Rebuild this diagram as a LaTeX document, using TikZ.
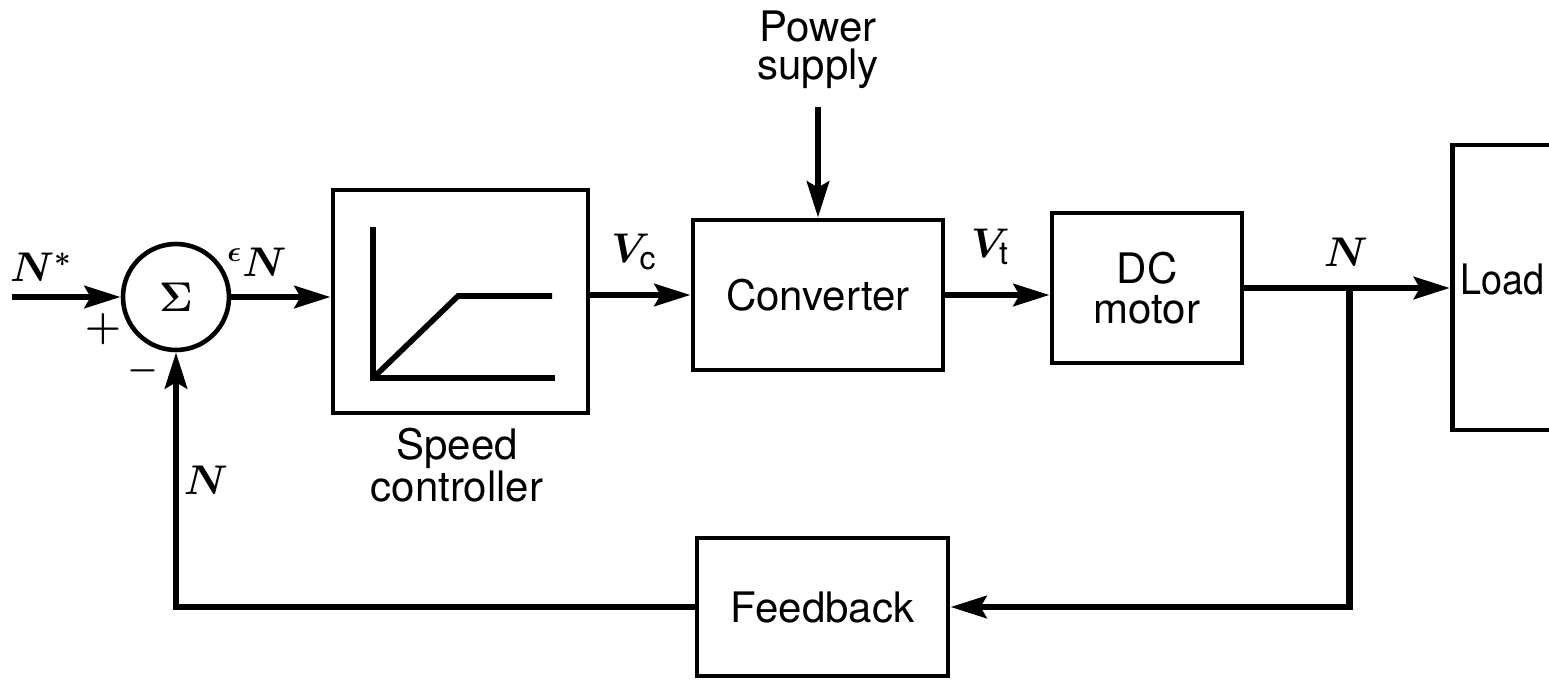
\documentclass[tikz,border=0pt]{standalone}
\usepackage{fontspec}
\setmainfont{TeX Gyre Heros}
\usetikzlibrary{arrows.meta}
\begin{document}
\begin{tikzpicture}[x=0.5pt,y=-0.5pt,
  blk/.style={draw, line width=2.4pt, inner sep=0pt, font=\fontsize{21}{20}\selectfont, align=center},
  sig/.style={line width=3.4pt, -{Stealth[length=18pt,width=11pt,inset=3pt]}},
  lbl/.style={inner sep=0pt, font=\fontsize{22}{26}\selectfont\boldmath},
  txt/.style={inner sep=0pt, align=center},
  curve/.style={line width=2.8pt, line join=miter}]
\useasboundingbox (0,0) rectangle (1549,681);
\clip (0,0) rectangle (1549,681);

% blocks
\node[circle, draw, line width=2.3pt, minimum size=53pt, inner sep=0pt,
      font=\fontsize{22}{24}\selectfont\boldmath] (sum) at (176,297) {$\Sigma$};
\node[blk, minimum width=127.5pt, minimum height=111.5pt] (sc) at (460.5,301.5) {};
\node[blk, minimum width=125pt, minimum height=75pt] (conv) at (818,295) {Converter};
\node[blk, minimum width=95pt, minimum height=75pt] (dc) at (1147,288) {DC\\motor};
\node[blk, minimum height=142.5pt, text width=52pt, align=left, inner xsep=4pt, anchor=west] (load) at (1450,287.5) {\raisebox{8pt}{\scalebox{0.9}[1]{Load}}};
\node[blk, minimum width=125.5pt, minimum height=69pt] (fb) at (822.5,607) {Feedback};

% speed controller characteristic
\draw[curve] (373,227) -- (373,378) -- (555,378);
\draw[curve] (373,378) -- (458,296) -- (552,296);

% text labels
\node[txt, anchor=north, font=\fontsize{21}{19}\selectfont] (pstxt) at (818,10) {Power\\supply};
\node[txt, anchor=north, font=\fontsize{21}{21}\selectfont] (sctxt) at (457,428) {Speed\\controller};

% signal labels
\node[lbl] (nstar) at (41,267) {$N^{*}$};
\node[lbl] (eps) at (257,262) {$^{\epsilon}N$};
\node[lbl] (vc) at (634,252) {$V_{\mbox{\fontsize{16}{18}\selectfont c}}$};
\node[lbl] (vt) at (990,247) {$V_{\mbox{\fontsize{16}{18}\selectfont t}}$};
\node[lbl] (nout) at (1346,252) {$N$};
\node[lbl] (nfb) at (206,480) {$N$};
\node[inner sep=0pt, font=\fontsize{20}{22}\selectfont\boldmath] (plus) at (103,329) {$+$};
\node[inner sep=0pt, font=\fontsize{18}{20}\selectfont\boldmath] (minus) at (143,371) {$-$};

% connectors
\coordinate (in) at (12,297);
\coordinate (ps) at (818,107);
\path (dc.east) -- ++(105,0) coordinate (br);
\draw[sig] (in) -- (sum.west);
\draw[sig] (sum.east) -- (sum.east -| sc.west);
\draw[sig] (sc.east |- conv.west) -- (conv.west);
\draw[sig] (conv.east) -- (conv.east -| dc.west);
\draw[sig] (dc.east) -- (dc.east -| load.west);
\draw[sig] (ps) -- (conv.north);
\draw[sig] (br) |- (fb.east);
\draw[sig] (fb.west) -| (sum.south);
\end{tikzpicture}
\end{document}
